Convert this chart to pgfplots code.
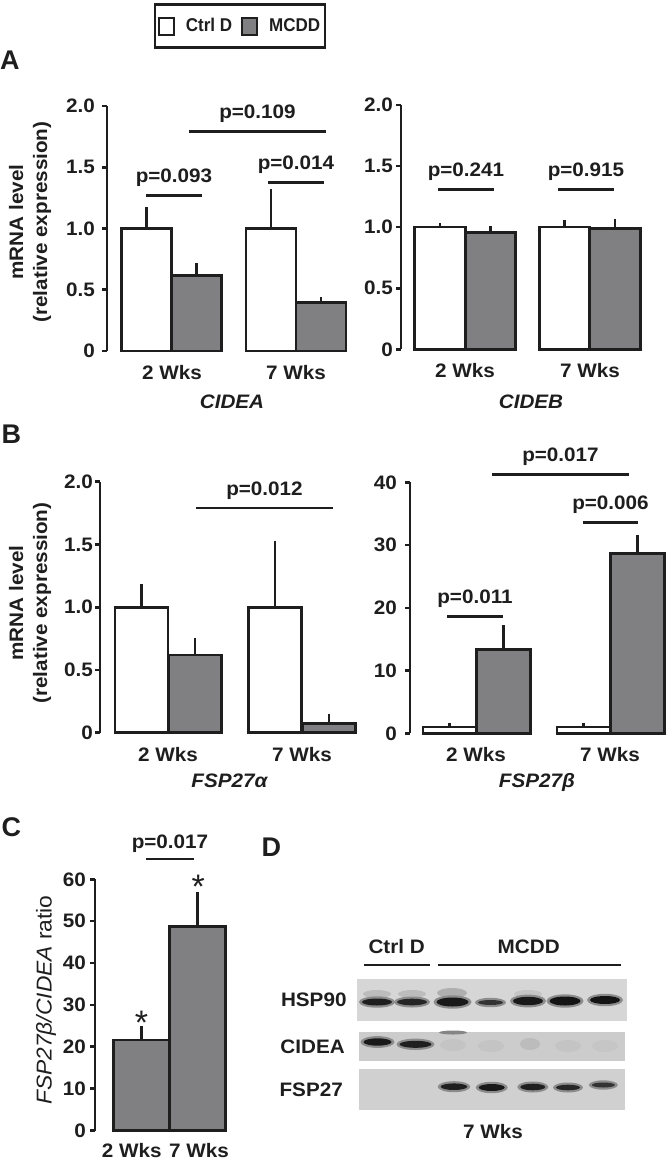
\documentclass[border=0pt]{standalone}
\usepackage{fontspec}
\setmainfont{Liberation Sans}[FakeStretch=1.06]
\newfontfamily\plainfont{Liberation Sans}
\newfontfamily\legfont{Liberation Sans}[FakeStretch=0.92]
\usepackage{pgfplots}
\pgfplotsset{compat=1.18}
\definecolor{bargray}{RGB}{128,128,131}
\definecolor{ink}{RGB}{30,30,30}
\definecolor{blotbg}{RGB}{214,214,214}
\definecolor{blotbgb}{RGB}{204,204,204}
\definecolor{blotbgc}{RGB}{208,208,208}
\newcommand\tf{\bfseries\fontsize{19.5}{24}\selectfont}
\newcommand\band[5]{\fill[black!45] (#1,#2) ellipse ({(#3+3)*1pt} and {(#4+2.2)*1pt});
  \fill[black!#5] (#1,#2) ellipse ({#3*1pt} and {#4*1pt});}
\tikzset{
 pline/.style={line width=2.6pt, draw=ink},
 plab/.style={anchor=base, yshift=#1, font=\tf, text=ink},
 plab/.default=13pt,
}
\pgfplotsset{
 panel/.style={
   scale only axis, clip=false,
   axis lines=left,
   axis line style={-, line width=2.6pt, draw=ink},
   x axis line style={draw=none},
   xtick style={draw=none},
   ytick style={line width=2.6pt, draw=ink},
   tick align=outside,
   major tick length=5pt,
   ytick pos=left,
   tick label style={font=\tf, text=ink},
   xticklabel style={anchor=base, yshift=-23.5pt},
   yticklabel style={anchor=east, inner sep=0pt, xshift=-#1},
   /pgf/number format/assume math mode=true,
 },
 ebars/.style={error bars/.cd, y dir=plus, y explicit,
   error bar style={line width=2.6pt, draw=ink},
   error mark options={line width=2.6pt, draw=ink, mark size=2.5pt}},
 wbar/.style={ybar, bar width=#1, bar shift=0pt, fill=white, draw=ink, line width=2.6pt, forget plot, ebars},
 gbar/.style={ybar, bar width=#1, bar shift=0pt, fill=bargray, draw=ink, line width=2.6pt, forget plot, ebars},
}
\begin{document}
\begin{tikzpicture}
\useasboundingbox (0pt,0pt) rectangle (666pt,-1161pt);

% ---------- Panel A, CIDEA
\begin{axis}[panel=7pt, at={(107pt,-351pt)}, anchor=south west,
  width=239pt, height=245pt, xmin=107, xmax=346, ymin=0, ymax=2,
  ytick={0,0.5,1,1.5,2}, yticklabels={0,0.5,1.0,1.5,2.0},
  xtick={172,296}, xticklabels={2 Wks,7 Wks},
  legend style={at={(0.5565,1.3265)}, anchor=center, draw=ink, line width=2.5pt,
    font=\legfont\bfseries\fontsize{18.5}{20}\selectfont, text=ink,
    inner xsep=3pt, inner ysep=12pt,
    /tikz/every even column/.append style={column sep=7pt}},
  legend columns=2,
  legend image code/.code={\draw[#1, line width=2pt] (0pt,-8.5pt) rectangle (15pt,8.5pt); \path[draw=none,fill=none] (0pt,0pt) -- (25pt,0pt);}]
\addlegendimage{fill=white,draw=ink}
\addlegendentry{Ctrl D}
\addlegendimage{fill=bargray,draw=ink}
\addlegendentry{MCDD}
\addplot[wbar=50pt] coordinates {(146.5,1.0) +- (0,0.157) (271,1.0) +- (0,0.30)};
\addplot[gbar=50pt] coordinates {(196.5,0.615) +- (0,0.081) (321,0.398) +- (0,0.022)};
\draw[pline] (146,1.27) -- (202,1.27) node[midway, plab] {p=0.093};
\draw[pline] (268,1.377) -- (324,1.377) node[midway, plab] {p=0.014};
\draw[pline] (189,1.79) -- (326,1.79) node[midway, plab] {p=0.109};
\end{axis}

% ---------- Panel A, CIDEB
\begin{axis}[panel=3pt, at={(401pt,-349.3pt)}, anchor=south west,
  width=240pt, height=244.3pt, xmin=401, xmax=641, ymin=0, ymax=2,
  ytick={0,0.5,1,1.5,2}, yticklabels={0,0.5,1.0,1.5,2.0},
  xtick={465,590}, xticklabels={2 Wks,7 Wks}]
\addplot[wbar=50.5pt] coordinates {(440,1.0) +- (0,0.01) (564.5,1.0) +- (0,0.04)};
\addplot[gbar=50.5pt] coordinates {(490.5,0.958) +- (0,0.027) (615,0.99) +- (0,0.055)};
\draw[pline] (438,1.31) -- (494,1.31) node[midway, plab] {p=0.241};
\draw[pline] (558,1.31) -- (614,1.31) node[midway, plab] {p=0.915};
\end{axis}

% ---------- Panel B, FSP27alpha
\begin{axis}[panel=2pt, at={(100pt,-732.7pt)}, anchor=south west,
  width=256pt, height=251pt, xmin=100, xmax=356, ymin=0, ymax=2,
  ytick={0,0.5,1,1.5,2}, yticklabels={0,0.5,1.0,1.5,2.0},
  xtick={168,302}, xticklabels={2 Wks,7 Wks}]
\addplot[wbar=53pt] coordinates {(141.5,1.0) +- (0,0.163) (275,1.0) +- (0,0.509)};
\addplot[gbar=53pt] coordinates {(195,0.619) +- (0,0.117) (329,0.075) +- (0,0.053)};
\draw[pline] (196,1.79) -- (333,1.79) node[midway, plab] {p=0.012};
\end{axis}

% ---------- Panel B, FSP27beta
\begin{axis}[panel=8pt, at={(410pt,-733.3pt)}, anchor=south west,
  width=256pt, height=251pt, xmin=410, xmax=666, ymin=0, ymax=40,
  ytick={0,10,20,30,40}, yticklabels={0,10,20,30,40},
  xtick={476,610}, xticklabels={2 Wks,7 Wks}]
\addplot[wbar=53pt] coordinates {(449.5,1.0) +- (0,0.3) (583.5,1.0) +- (0,0.3)};
\addplot[gbar=54pt] coordinates {(503.5,13.4) +- (0,3.4) (637.5,28.7) +- (0,2.5)};
\draw[pline] (447,18.6) -- (503,18.6) node[midway, plab] {p=0.011};
\draw[pline] (583,33.6) -- (638,33.6) node[midway, plab] {p=0.006};
\draw[pline] (492,41.2) -- (629,41.2) node[midway, plab] {p=0.017};
\end{axis}

% ---------- Panel C
\begin{axis}[panel=4pt, at={(95pt,-1130.5pt)}, anchor=south west,
  width=133pt, height=251.2pt, xmin=95, xmax=228, ymin=0, ymax=60,
  ytick={0,10,20,30,40,50,60}, yticklabels={0,10,20,30,40,50,60},
  xtick={131.7,199}, xticklabels={2 Wks,7 Wks},
  xticklabel style={yshift=1.5pt}]
\addplot[gbar=56pt] coordinates {(141.5,21.6) +- (0,2.7) (197.5,48.7) +- (0,7.6)};
\draw[pline] (146,64.9) -- (194,64.9) node[midway, plab=10pt] {p=0.017};
\node[anchor=base, font=\plainfont\fontsize{34}{34}\selectfont, text=ink] at (141.5,22.9) {*};
\node[anchor=base, font=\plainfont\fontsize{34}{34}\selectfont, text=ink] at (198.3,55.3) {*};
\end{axis}

% ---------- Panel D, western blot
\begin{axis}[scale only axis, hide axis, clip=false, at={(0pt,-1161pt)}, anchor=south west,
  width=666pt, height=1161pt, xmin=0, xmax=666, ymin=-1161, ymax=0]
\fill[blotbg] (357,-979) rectangle (627,-1021);
\fill[blotbgb] (358.5,-1032) rectangle (625,-1061);
\fill[blotbgc] (358.5,-1069) rectangle (625,-1110);
% faint upper smear HSP90
\fill[blotbg!88!black] (377,-994) ellipse (14pt and 4pt);
\fill[blotbg!88!black] (412,-994) ellipse (14pt and 4pt);
\fill[blotbg!82!black] (452,-993) ellipse (15pt and 5pt);
\fill[blotbg!92!black] (528,-994) ellipse (14pt and 4pt);
% HSP90 bands
\band{377}{-1002}{15}{3.5}{88}
\band{412}{-1002}{15}{3.3}{85}
\band{452.5}{-1002}{16}{4.5}{90}
\band{490.5}{-1002.5}{12.5}{2.5}{80}
\band{528}{-1001}{15}{4.2}{90}
\band{565}{-1001}{15.5}{4.5}{92}
\band{605}{-1000}{15}{4}{92}
% CIDEA bands
\band{377.5}{-1042}{14}{3.7}{90}
\band{415.5}{-1044.3}{16}{3.5}{88}
\fill[blotbgb!65!black] (453,-1032.5) ellipse (14pt and 2pt);
\fill[blotbgb!96!black] (453,-1045) ellipse (13pt and 6pt);
\fill[blotbgb!96!black] (491,-1046) ellipse (13pt and 6pt);
\fill[blotbgb!92!black] (530,-1044) ellipse (10pt and 6pt);
\fill[blotbgb!96!black] (568,-1046) ellipse (13pt and 6pt);
\fill[blotbgb!97!black] (605,-1046) ellipse (13pt and 6pt);
% FSP27 bands
\band{454}{-1086.7}{13.3}{3.3}{88}
\band{491.7}{-1087.5}{13}{3.5}{90}
\band{532.8}{-1087}{12.5}{3.3}{88}
\band{568}{-1087.5}{12}{2.8}{85}
\band{603.3}{-1085}{11.5}{2.5}{80}
% group lines
\draw[line width=2.5pt, ink] (364,-965) -- (430,-965);
\draw[line width=2.5pt, ink] (437.7,-965) -- (621,-965);
\end{axis}

% ---------- text
\node[anchor=base west, inner sep=0pt, font=\plainfont\bfseries\fontsize{27}{30}\selectfont, text=ink] at (0pt,-70pt) {A};
\node[anchor=base west, inner sep=0pt, font=\plainfont\bfseries\fontsize{27}{30}\selectfont, text=ink] at (1.5pt,-443pt) {B};
\node[anchor=base west, inner sep=0pt, font=\plainfont\bfseries\fontsize{27}{30}\selectfont, text=ink] at (1.5pt,-836.7pt) {C};
\node[anchor=base west, inner sep=0pt, font=\plainfont\bfseries\fontsize{27}{30}\selectfont, text=ink] at (261.5pt,-856.7pt) {D};

\node[rotate=90, align=center, font=\tf, text=ink] at (30pt,-222pt) {mRNA level\\(relative expression)};
\node[rotate=90, align=center, font=\tf, text=ink] at (30pt,-603pt) {mRNA level\\(relative expression)};
\node[rotate=90, font=\fontsize{21.5}{24}\selectfont, text=ink] at (46pt,-1000pt) {\textit{FSP27β/CIDEA} ratio};

\node[anchor=base, font=\tf\itshape, text=ink] at (232pt,-408pt) {CIDEA};
\node[anchor=base, font=\tf\itshape, text=ink] at (531pt,-408pt) {CIDEB};
\node[anchor=base, font=\tf\itshape, text=ink] at (229.5pt,-787pt) {FSP27α};
\node[anchor=base, font=\tf\itshape, text=ink] at (537pt,-787pt) {FSP27β};

\node[anchor=base, font=\tf, text=ink] at (396.7pt,-953pt) {Ctrl D};
\node[anchor=base, font=\tf, text=ink] at (528.7pt,-953pt) {MCDD};
\node[anchor=base east, inner sep=0pt, font=\tf, text=ink] at (346.7pt,-1006.7pt) {HSP90};
\node[anchor=base east, inner sep=0pt, font=\tf, text=ink] at (345pt,-1053pt) {CIDEA};
\node[anchor=base east, inner sep=0pt, font=\tf, text=ink] at (343pt,-1096pt) {FSP27};
\node[anchor=base, font=\tf, text=ink] at (493pt,-1138pt) {7 Wks};
\end{tikzpicture}
\end{document}
